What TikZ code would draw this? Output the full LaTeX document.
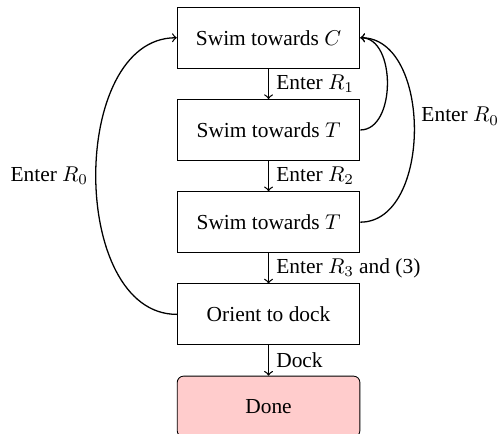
\documentclass[tikz,border=0pt]{standalone}
\usepackage{fontspec}
\setmainfont{Liberation Serif}
\usetikzlibrary{positioning}
\begin{document}
\begin{tikzpicture}[
  etat/.style={draw, minimum width=3cm, minimum height=1cm},
  fin/.style={etat, rounded corners=3pt, fill=red!20},
  fleche/.style={->, semithick},
  node distance=0.5cm
]

% Cadre de l'image
\useasboundingbox (-4.41,-6.5) rectangle (3.85,0.62);

% États
\node[etat] (versC) at (0,0) {Swim towards $C$};
\node[etat, below=of versC] (versT) {Swim towards $T$};
\node[etat, below=of versT] (versTbis) {Swim towards $T$};
\node[etat, below=of versTbis] (orient) {Orient to dock};
\node[fin, below=of orient] (fini) {Done};

% Transitions vers le bas
\draw[fleche] (versC) -- node[right] {Enter $R_1$} (versT);
\draw[fleche] (versT) -- node[right] {Enter $R_2$} (versTbis);
\draw[fleche] (versTbis) -- node[right] {Enter $R_3$ and (3)} (orient);
\draw[fleche] (orient) -- node[right] {Dock} (fini);

% Retours
\draw[fleche] (orient.west) to[out=180,in=180] node[left] {Enter $R_0$} (versC.west);
\draw[fleche] (versT.east) to[out=0,in=0] (versC.east);
\draw[fleche] (versTbis.east) to[out=0,in=0] node[pos=0.55,right] {Enter $R_0$} (versC.east);

\end{tikzpicture}
\end{document}
